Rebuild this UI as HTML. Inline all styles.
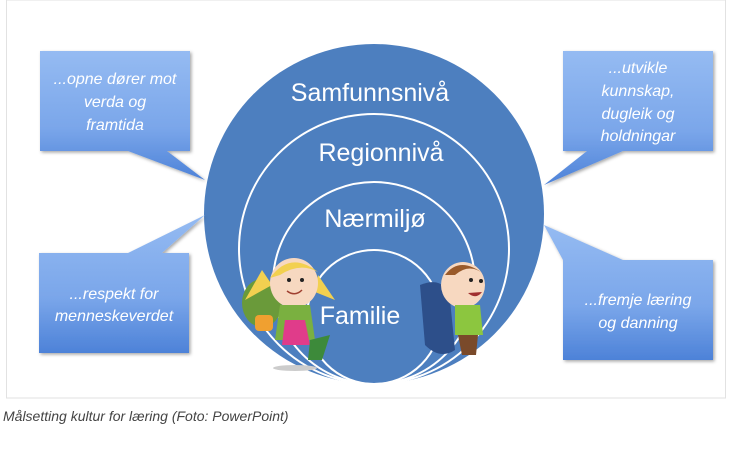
<!DOCTYPE html>
<html><head><meta charset="utf-8"><style>
body{margin:0;background:#fff;width:731px;height:445px;overflow:hidden;font-family:"Liberation Sans",sans-serif}
</style></head><body>
<svg width="731" height="445" viewBox="0 0 731 445" xmlns="http://www.w3.org/2000/svg">
<defs>
<linearGradient id="g" x1="0" y1="0" x2="0" y2="1">
<stop offset="0" stop-color="#95bbf2"/><stop offset="0.6" stop-color="#7aa6ea"/><stop offset="1" stop-color="#4d82d8"/>
</linearGradient>
<filter id="s" x="-10%" y="-10%" width="130%" height="130%"><feDropShadow dx="1.5" dy="1.5" stdDeviation="1.5" flood-opacity="0.35"/></filter>
</defs>
<rect x="6.5" y="0" width="719" height="398" fill="#fff" stroke="#e2e2e2"/>
<circle cx="374" cy="214" r="170" fill="#4d7fbf"/>
<g fill="none" stroke="#fff" stroke-width="2">
<circle cx="374" cy="249" r="135"/>
<circle cx="374" cy="283" r="101"/>
<circle cx="374" cy="317" r="67"/>
</g>
<g fill="#fff" font-family="Liberation Sans, DejaVu Sans, sans-serif" text-anchor="middle" font-size="25">
<text x="370" y="101">Samfunnsnivå</text>
<text x="381" y="161">Regionnivå</text>
<text x="375" y="227">Nærmiljø</text>
<text x="360" y="324">Familie</text>
</g>
<g filter="url(#s)">
<path d="M40 51H190V151H167L205 180L128 151H40Z" fill="url(#g)"/>
<path d="M39 253H128L205 215L162 253H189V353H39Z" fill="url(#g)"/>
<path d="M563 51H713V151H623L544 185L587 151H563Z" fill="url(#g)"/>
<path d="M563 260L544 225L623 260H713V360H563Z" fill="url(#g)"/>
</g>
<g fill="#fff" font-style="italic" font-size="16" text-anchor="middle">
<text x="115" y="84">...opne dører mot</text>
<text x="115" y="107">verda og</text>
<text x="115" y="130">framtida</text>
<text x="114" y="299">...respekt for</text>
<text x="114" y="321">menneskeverdet</text>
<text x="638" y="73">...utvikle</text>
<text x="638" y="96">kunnskap,</text>
<text x="638" y="119">dugleik og</text>
<text x="638" y="141">holdningar</text>
<text x="638" y="305">...fremje læring</text>
<text x="638" y="328">og danning</text>
</g>
<!-- girl -->
<g>
<ellipse cx="262" cy="303" rx="20" ry="24" fill="#6a9a3a"/>
<rect x="255" y="315" width="18" height="16" rx="4" fill="#f0a030"/>
<path d="M262 270 L245 300 L272 285Z" fill="#f2d050"/>
<path d="M318 275 L335 300 L315 292Z" fill="#f2d050"/>
<ellipse cx="294" cy="283" rx="24" ry="25" fill="#f7d8c0"/>
<path d="M270 278 Q290 250 318 272 Q300 262 280 275Z" fill="#f2d050"/>
<circle cx="289" cy="280" r="2" fill="#222"/><circle cx="302" cy="280" r="2" fill="#222"/>
<path d="M287 291 Q295 297 302 290" stroke="#a04030" fill="none" stroke-width="1.5"/>
<path d="M280 305 L310 305 L315 340 L275 340Z" fill="#7ab040"/>
<path d="M285 320 L305 320 L310 345 L282 345Z" fill="#e03c8a"/>
<path d="M310 340 L330 335 L322 360 L308 360Z" fill="#3d8a3a"/>
<ellipse cx="295" cy="368" rx="22" ry="3" fill="#ccc"/>
</g>
<!-- boy -->
<g>
<path d="M420 285 Q445 275 450 300 L455 350 Q440 360 425 345Z" fill="#2d4f8a"/>
<ellipse cx="463" cy="285" rx="22" ry="23" fill="#f7d8c0"/>
<path d="M445 275 Q460 255 485 275 Q470 262 455 275Z" fill="#9a5a2a"/>
<circle cx="471" cy="280" r="2" fill="#222"/><circle cx="481" cy="281" r="2" fill="#222"/>
<path d="M468 293 Q476 300 482 292" fill="#a03030"/>
<path d="M455 305 L480 305 L483 335 L455 335Z" fill="#8cc63f"/>
<path d="M458 335 L478 335 L476 355 L462 355Z" fill="#7a4a2a"/>
</g>
<text x="3" y="421" font-style="italic" font-size="14" fill="#444" font-family="Liberation Sans, sans-serif">Målsetting kultur for læring (Foto: PowerPoint)</text>
</svg>
</body></html>
